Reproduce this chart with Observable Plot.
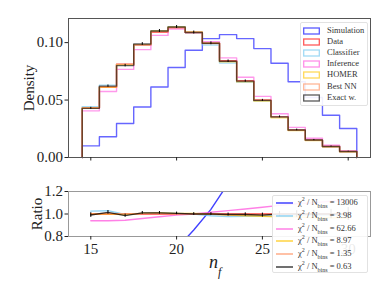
<!DOCTYPE html>
<html>
<head>
<meta charset="utf-8">
<script src="https://cdn.jsdelivr.net/npm/d3@7"></script>
<script src="https://cdn.jsdelivr.net/npm/@observablehq/plot@0.6"></script>
<style>
  html, body { margin: 0; padding: 0; background: #fff; }
  #chart { position: relative; width: 389px; height: 292px; font-family: "Liberation Serif", "DejaVu Serif", serif; }
  #chart > svg { position: absolute; left: 0; }
  .legend { position: absolute; background: rgba(255,255,255,0.9); border: 1px solid #e2e2e2; border-radius: 2px; font-size: 8.5px; color: #333; }
  .legend .row { position: absolute; left: 0; white-space: nowrap; line-height: 1; }
  .legend svg { vertical-align: middle; }
  sub, sup { line-height: 0; }
</style>
</head>
<body>
<div id="chart"></div>
<script>
// ---- data ----
const nf = [15, 16, 17, 18, 19, 20, 21, 22, 23, 24, 25, 26, 27, 28, 29, 30];
const simulation = [0.0101, 0.0180, 0.0296, 0.0440, 0.0614, 0.0783, 0.0933, 0.1035, 0.1070, 0.1035, 0.0948, 0.0820, 0.0660, 0.0522, 0.0368, 0.0252];
const data       = [0.0432, 0.0612, 0.0812, 0.0978, 0.1090, 0.1130, 0.1088, 0.0994, 0.0842, 0.0668, 0.0502, 0.0354, 0.0240, 0.0152, 0.0096, 0.0052];
const classifier = [0.0443, 0.0630, 0.0808, 0.0983, 0.1101, 0.1136, 0.1088, 0.0979, 0.0822, 0.0655, 0.0492, 0.0349, 0.0238, 0.0150, 0.0095, 0.0051];
const inference  = [0.0406, 0.0575, 0.0767, 0.0939, 0.1063, 0.1119, 0.1088, 0.1009, 0.0867, 0.0698, 0.0532, 0.0381, 0.0262, 0.0167, 0.0107, 0.0058];
const homer      = [0.0432, 0.0612, 0.0808, 0.0983, 0.1101, 0.1136, 0.1093, 0.0994, 0.0834, 0.0658, 0.0492, 0.0345, 0.0234, 0.0147, 0.0093, 0.0050];
const bestNN     = [0.0432, 0.0615, 0.0812, 0.0983, 0.1095, 0.1130, 0.1088, 0.0992, 0.0838, 0.0665, 0.0499, 0.0354, 0.0240, 0.0152, 0.0096, 0.0052];
const exactW     = [0.0428, 0.0621, 0.0800, 0.0988, 0.1101, 0.1136, 0.1088, 0.0994, 0.0838, 0.0665, 0.0497, 0.0354, 0.0240, 0.0152, 0.0096, 0.0052];
const exactErr   = [0.0009, 0.0010, 0.0011, 0.0012, 0.0013, 0.0013, 0.0013, 0.0012, 0.0011, 0.0010, 0.0009, 0.0008, 0.0007, 0.0005, 0.0004, 0.0003];

const seriesNames  = ["Simulation", "Data", "Classifier", "Inference", "HOMER", "Best NN", "Exact w."];
const seriesColors = ["#0000ff", "#ff0000", "#6ec6f0", "#ff55dd", "#ffc400", "#ff9060", "#000000"];
const seriesValues = [simulation, data, classifier, inference, homer, bestNN, exactW];

const ratioNames = ["Simulation", "Classifier", "Inference", "HOMER", "Best NN", "Exact w."];
const chi2Labels = ["13006", "3.98", "62.66", "8.97", "1.35", "0.63"];

const densityTicks = [0, 0.05, 0.10];
const ratioTicks = [0.8, 1.0, 1.2];
const nfTicks = [15, 20, 25, 30];

// ---- derived tables ----
const steps = [];
seriesNames.forEach((s, k) => {
  const v = seriesValues[k];
  steps.push({s, x: nf[0] - 0.5, y: 0});
  v.forEach((y, i) => steps.push({s, x: nf[i] - 0.5, y}));
  steps.push({s, x: nf[nf.length - 1] + 0.5, y: v[v.length - 1]});
  steps.push({s, x: nf[nf.length - 1] + 0.5, y: 0});
});
const errs = nf.map((x, i) => ({x, lo: exactW[i] - exactErr[i], hi: exactW[i] + exactErr[i]}));

const ratioOrder = ["Data", ...ratioNames];
const ratios = [];
ratioOrder.forEach(s => {
  const v = seriesValues[seriesNames.indexOf(s)];
  nf.forEach((x, i) => ratios.push({s, x, y: v[i] / data[i]}));
});
const ratioErrs = nf.map((x, i) => ({x, lo: (exactW[i] - exactErr[i]) / data[i], hi: (exactW[i] + exactErr[i]) / data[i]}));

const xDomain = [13.7, 31.3];
const color = {domain: seriesNames, range: seriesColors};
const font = {fontFamily: "Liberation Serif, DejaVu Serif, serif", fontSize: "14px", color: "#222", background: "transparent", overflow: "visible"};

const topPlot = Plot.plot({
  width: 389, height: 170,
  marginLeft: 68, marginRight: 19, marginTop: 18, marginBottom: 13,
  style: font,
  x: {domain: xDomain},
  y: {domain: [0, 0.121]},
  color,
  marks: [
    Plot.line(steps, {x: "x", y: "y", z: "s", stroke: "s", strokeWidth: 1.4, strokeOpacity: 0.6, curve: "step-after"}),
    Plot.ruleX(errs, {x: "x", y1: "lo", y2: "hi", stroke: "#000", strokeWidth: 1}),
    Plot.frame({stroke: "#555", strokeWidth: 1}),
    Plot.axisY({ticks: densityTicks, tickFormat: d3.format(".2f"), tickSize: 3.5, tickPadding: 2, label: "Density", labelAnchor: "center", labelArrow: "none", labelOffset: 45, fontSize: 15}),
    Plot.axisX({ticks: nfTicks, tickFormat: () => "", tickSize: 3.5, label: null})
  ]
});
topPlot.style.top = "0px";

const bottomPlot = Plot.plot({
  width: 389, height: 122,
  marginLeft: 68, marginRight: 19, marginTop: 21, marginBottom: 56,
  style: font,
  x: {domain: xDomain},
  y: {domain: [0.8, 1.2]},
  color,
  marks: [
    Plot.line(ratios, {x: "x", y: "y", z: "s", stroke: "s", strokeWidth: 1.4, strokeOpacity: 0.75, clip: true}),
    Plot.ruleX(ratioErrs, {x: "x", y1: "lo", y2: "hi", stroke: "#000", strokeWidth: 1, clip: true}),
    Plot.frame({stroke: "#999", strokeWidth: 1}),
    Plot.axisY({ticks: ratioTicks, tickFormat: d3.format(".1f"), tickSize: 3.5, tickPadding: 2, label: "Ratio", labelAnchor: "center", labelArrow: "none", labelOffset: 37, fontSize: 15}),
    Plot.axisX({ticks: nfTicks, tickSize: 3.5, tickPadding: 3, label: null, fontSize: 15})
  ]
});
bottomPlot.style.top = "170px";

const chart = document.getElementById("chart");
chart.appendChild(topPlot);
chart.appendChild(bottomPlot);

// x label
const xl = document.createElement("div");
xl.style.cssText = "position:absolute;left:209px;top:252px;font-size:18px;font-style:italic;color:#222;";
xl.innerHTML = "n<sub style='font-size:12px;position:relative;top:3px'>f</sub>";
chart.appendChild(xl);

// top legend
const lg1 = document.createElement("div");
lg1.className = "legend";
lg1.style.cssText += "left:300px;top:22px;width:66px;height:82px;";
seriesNames.forEach((s, i) => {
  const r = document.createElement("div");
  r.className = "row";
  r.style.top = (3 + i * 11.1) + "px";
  r.style.left = "2px";
  r.innerHTML = `<svg width="17" height="8"><rect x="0.7" y="1" width="15.6" height="6" fill="none" stroke="${seriesColors[i]}" stroke-opacity="0.65" stroke-width="1.3"/></svg><span style="margin-left:7px">${s}</span>`;
  lg1.appendChild(r);
});
chart.appendChild(lg1);

// ratio legend
const lg2 = document.createElement("div");
lg2.className = "legend";
lg2.style.cssText += "left:272px;top:195px;width:94px;height:76px;";
ratioNames.forEach((s, i) => {
  const c = seriesColors[seriesNames.indexOf(s)];
  const r = document.createElement("div");
  r.className = "row";
  r.style.top = (2 + i * 12.8) + "px";
  r.style.left = "2px";
  r.innerHTML = `<svg width="18" height="8"><line x1="1" x2="18" y1="4" y2="4" stroke="${c}" stroke-opacity="0.75" stroke-width="1.5"/></svg><span style="margin-left:5px">χ<sup style="font-size:6px">2</sup> / N<sub style="font-size:6px">bins</sub> = ${chi2Labels[i]}</span>`;
  lg2.appendChild(r);
});
chart.appendChild(lg2);
</script>
</body>
</html>
